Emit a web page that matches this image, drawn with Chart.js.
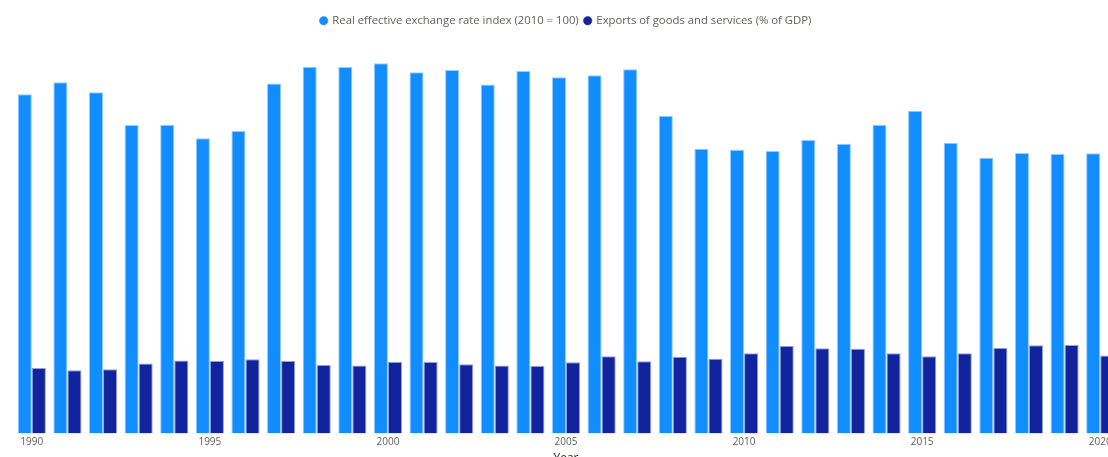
<!DOCTYPE html>
<html>
<head>
<meta charset="utf-8">
<script src="https://cdn.jsdelivr.net/npm/chart.js@4"></script>
<style>
  html, body { margin: 0; padding: 0; background: #ffffff; overflow: hidden; }
  #wrap { position: relative; width: 1128px; height: 466px; }
</style>
</head>
<body>
<div id="wrap"><canvas id="chart"></canvas></div>
<script>
const years = [
  '1990', '1991', '1992', '1993', '1994', '1995', '1996', '1997', '1998', '1999',
  '2000', '2001', '2002', '2003', '2004', '2005', '2006', '2007', '2008', '2009',
  '2010', '2011', '2012', '2013', '2014', '2015', '2016', '2017', '2018', '2019',
  '2020'
];

const reerIndex = [
  119.6, 123.8, 120.3, 108.7, 108.8, 104.1, 106.6, 123.4, 129.3, 129.2,
  130.5, 127.3, 128.1, 123.0, 127.8, 125.6, 126.3, 128.4, 112.0, 100.4,
  100.0, 99.6, 103.5, 102.1, 108.8, 113.8, 102.5, 97.2, 98.9, 98.5,
  98.8
];

const exportsGdp = [
  23.1, 22.3, 22.7, 24.7, 25.8, 25.6, 26.2, 25.6, 24.2, 24.0,
  25.2, 25.2, 24.4, 24.0, 23.8, 25.1, 27.3, 25.5, 27.1, 26.4,
  28.3, 30.9, 30.1, 29.9, 28.3, 27.3, 28.3, 30.2, 31.1, 31.2,
  27.5
];

const seriesNames = ['Real effective exchange rate index (2010 = 100)', 'Exports of goods and services (% of GDP)'];

const ctx = document.getElementById('chart').getContext('2d');
new Chart(ctx, {
  type: 'bar',
  data: {
    labels: years,
    datasets: [
      {
        label: seriesNames[0],
        data: reerIndex,
        backgroundColor: '#118DFF',
        borderColor: 'rgba(17,141,255,0.45)',
        borderWidth: 1,
        categoryPercentage: 0.79,
        barPercentage: 1.0
      },
      {
        label: seriesNames[1],
        data: exportsGdp,
        backgroundColor: '#12239E',
        borderColor: 'rgba(18,35,158,0.45)',
        borderWidth: 1,
        categoryPercentage: 0.79,
        barPercentage: 1.0
      }
    ]
  },
  options: {
    responsive: true,
    maintainAspectRatio: false,
    animation: false,
    layout: {
      padding: { left: 14, right: 10, top: 9, bottom: 0 }
    },
    plugins: {
      legend: {
        display: true,
        position: 'top',
        labels: {
          usePointStyle: true,
          pointStyle: 'circle',
          boxWidth: 6,
          boxHeight: 6,
          padding: 6,
          color: '#605E5C',
          font: { family: 'Open Sans', size: 11.3 }
        }
      },
      tooltip: { enabled: false }
    },
    scales: {
      x: {
        grid: { display: false, drawTicks: false },
        border: { display: false },
        ticks: {
          color: '#605E5C',
          font: { family: 'Open Sans', size: 10 },
          maxRotation: 0,
          autoSkip: false,
          padding: 3,
          callback: function (value, index) {
            const y = years[index];
            return Number(y) % 5 === 0 ? y : '';
          }
        },
        title: {
          display: true,
          text: 'Year',
          color: '#252423',
          font: { family: 'Open Sans', size: 12 },
          padding: { top: 0, bottom: 0 }
        }
      },
      y: {
        display: false,
        min: 0,
        max: 140
      }
    }
  }
});
</script>
</body>
</html>
